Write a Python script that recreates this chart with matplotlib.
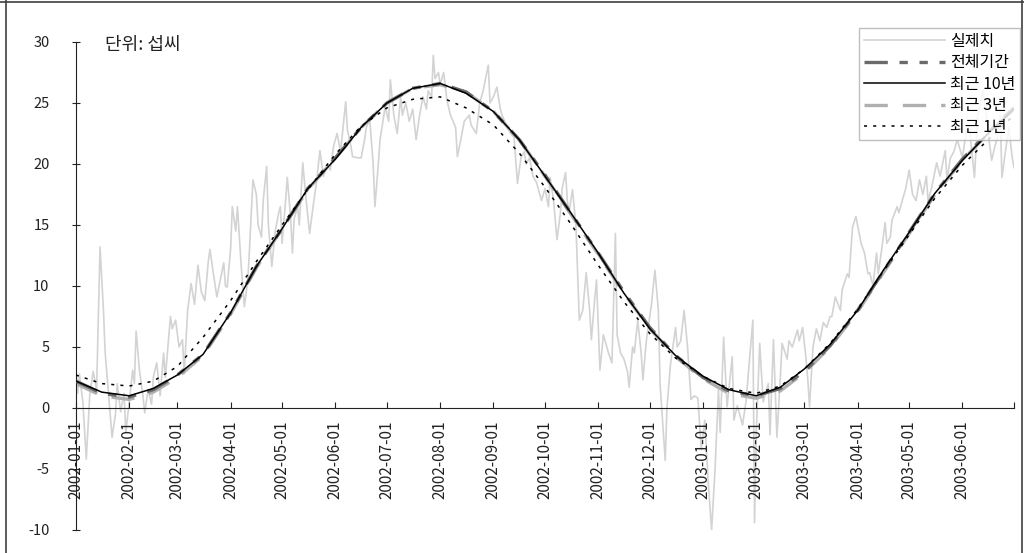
import matplotlib
matplotlib.use("Agg")
import matplotlib.pyplot as plt
import matplotlib.ticker as mticker
from matplotlib.lines import Line2D
import numpy as np

plt.rcParams["font.family"] = ["Noto Sans CJK KR", "DejaVu Sans"]
plt.rcParams["axes.unicode_minus"] = False

# 실제치: day offset from 2002-01-01 and daily temperature (turning points)
actual_days = [
    0, 1, 2, 4, 6, 8, 10, 12, 14, 16, 17, 19, 21, 23, 24, 26, 28, 29, 31, 33,
    34, 35, 37, 39, 40, 42, 44, 45, 47, 49, 51, 52, 55, 56, 58, 60, 62, 63, 65, 67,
    69, 71, 73, 75, 77, 78, 80, 82, 84, 86, 87, 88, 90, 91, 93, 94, 96, 98, 100, 101,
    103, 105, 106, 108, 109, 111, 112, 114, 116, 118, 119, 120, 122, 123, 125, 126, 127, 129, 130, 132,
    134, 136, 138, 140, 142, 144, 146, 148, 150, 152, 154, 157, 158, 160, 161, 164, 166, 168, 169, 171,
    173, 174, 176, 177, 180, 182, 183, 185, 187, 189, 190, 192, 194, 196, 198, 200, 202, 204, 205, 207,
    208, 209, 211, 212, 214, 216, 218, 221, 222, 224, 226, 229, 230, 233, 235, 237, 240, 241, 243, 245,
    247, 248, 251, 253, 255, 257, 259, 261, 262, 264, 266, 268, 271, 273, 275, 276, 278, 280, 282, 283,
    285, 286, 287, 289, 291, 293, 295, 297, 299, 300, 302, 303, 305, 307, 308, 310, 312, 314, 315, 317,
    319, 321, 322, 324, 325, 327, 329, 330, 332, 335, 337, 339, 340, 343, 344, 346, 349, 350, 352, 354,
    356, 358, 360, 362, 364, 366, 368, 370, 372, 374, 375, 377, 379, 382, 383, 385, 388, 390, 392, 394,
    395, 396, 398, 400, 403, 404, 406, 408, 410, 411, 414, 415, 417, 420, 421, 423, 425, 426, 427, 429,
    431, 433, 435, 437, 439, 440, 442, 445, 446, 449, 450, 452, 454, 457, 459, 461, 462, 464, 466, 467,
    469, 471, 472, 474, 475, 478, 479, 481, 483, 485, 487, 489, 491, 493, 495, 496, 498, 501, 503, 506,
    507, 509, 511, 513, 516, 518, 520, 523, 525, 528, 530, 531, 533, 535, 536, 538, 539, 541, 543, 545,
    546,
]
actual_vals = [
    3.0, 1.2, 2.8, 0.5, -4.2, 1.0, 3.0, 1.5, 13.2, 8.0, 4.5, 1.0, -2.4, -0.5, 2.0, -0.3, 1.2, -2.0, 0.5, 3.1,
    2.0, 6.3, 3.0, 1.0, -0.4, 1.5, 0.3, 2.5, 3.7, 1.0, 4.5, 2.5, 7.5, 6.5, 7.2, 5.0, 5.6, 2.8, 8.0, 10.2,
    8.5, 11.7, 9.5, 8.8, 12.0, 13.0, 11.0, 9.1, 10.5, 11.9, 10.0, 9.9, 13.0, 16.5, 14.5, 16.5, 12.0, 8.3, 10.5, 13.0,
    18.7, 17.5, 15.0, 14.0, 17.0, 19.8, 15.0, 11.6, 14.5, 16.0, 16.5, 13.5, 17.0, 18.9, 15.5, 12.7, 15.5, 16.5, 15.0, 20.1,
    17.0, 14.3, 16.5, 18.5, 21.1, 19.0, 20.0, 19.5, 21.5, 22.5, 21.0, 25.1, 22.8, 21.5, 20.6, 20.5, 20.5, 22.0, 23.0, 23.6,
    20.0, 16.5, 20.0, 22.0, 24.7, 23.5, 26.9, 24.0, 22.5, 25.5, 24.0, 25.0, 23.5, 24.5, 22.0, 24.0, 25.5, 24.5, 26.0, 25.5,
    28.9, 27.0, 27.5, 26.5, 27.5, 25.2, 24.0, 23.0, 20.6, 22.0, 23.5, 24.0, 23.2, 22.5, 25.0, 26.0, 28.1, 25.0, 25.5, 26.3,
    24.5, 24.0, 23.0, 22.5, 22.2, 18.4, 20.5, 21.0, 20.0, 20.5, 19.0, 18.5, 17.0, 18.0, 16.5, 18.9, 17.0, 13.8, 16.0, 18.0,
    19.3, 17.0, 16.0, 17.9, 15.0, 7.2, 8.0, 11.1, 8.0, 5.6, 9.0, 10.5, 3.1, 6.0, 5.5, 4.5, 3.7, 14.3, 6.0, 4.5,
    4.0, 3.0, 1.7, 5.0, 4.5, 7.2, 4.5, 2.3, 5.5, 8.5, 11.3, 8.0, 2.0, -4.3, 0.0, 3.5, 6.6, 5.0, 5.5, 8.0,
    5.0, 0.7, 1.0, 0.8, -3.4, -1.0, -6.0, -10.0, -5.0, 1.5, -2.0, 5.8, 0.1, 4.2, -1.0, 0.2, -1.4, 0.5, 3.9, 7.2,
    -9.4, -2.0, 5.3, 0.5, 2.0, -2.2, 5.6, -2.4, 2.5, 5.3, 4.0, 5.5, 5.0, 6.4, 5.5, 6.6, 4.0, 2.3, 0.1, 5.0,
    6.5, 5.5, 7.0, 6.6, 7.5, 7.5, 9.1, 8.0, 9.7, 11.0, 10.7, 14.8, 15.7, 13.5, 12.7, 11.0, 11.1, 10.0, 12.7, 11.0,
    13.0, 15.2, 13.5, 14.0, 15.4, 16.5, 16.0, 17.0, 18.0, 19.5, 17.5, 17.0, 18.7, 17.5, 19.0, 17.0, 18.0, 20.1, 19.0, 21.1,
    18.7, 20.5, 21.0, 22.0, 20.5, 22.5, 23.0, 18.9, 24.0, 26.0, 24.0, 22.5, 20.3, 21.5, 22.0, 24.0, 18.9, 21.0, 23.0, 20.5,
    19.7,
]

# fitted curves, read every half month
fit_days = [0, 15, 31, 45, 59, 74, 90, 105, 120, 135, 151, 166, 181, 196, 212, 227, 243, 258, 273,
            288, 304, 319, 334, 349, 365, 380, 396, 410, 424, 439, 455, 470, 485, 500, 516, 531, 546]
fit_all = [2.2, 1.2, 0.9, 1.5, 2.7, 4.4, 7.8, 11.6, 14.7, 18.0, 20.5, 23.0, 25.0, 26.2, 26.6, 25.9, 24.3, 22.0, 19.1,
           16.0, 12.7, 9.5, 6.6, 4.3, 2.5, 1.4, 1.0, 1.6, 3.0, 5.1, 8.0, 11.2, 14.4, 17.6, 20.4, 22.6, 24.6]
fit_10y = [2.2, 1.3, 1.0, 1.6, 2.7, 4.4, 7.8, 11.6, 14.7, 18.0, 20.4, 23.0, 25.0, 26.2, 26.6, 25.8, 24.3, 22.0, 19.0,
           16.0, 12.7, 9.4, 6.5, 4.3, 2.6, 1.5, 1.0, 1.7, 3.2, 5.2, 8.0, 11.3, 14.4, 17.6, 20.3, 22.5, 24.5]
fit_3y = [2.0, 1.0, 0.7, 1.3, 2.5, 4.3, 7.7, 11.5, 14.7, 17.9, 20.5, 23.0, 25.0, 26.2, 26.5, 25.9, 24.3, 22.0, 19.0,
          15.9, 12.6, 9.4, 6.5, 4.2, 2.4, 1.2, 0.8, 1.4, 2.9, 5.0, 7.9, 11.1, 14.3, 17.5, 20.3, 22.5, 24.5]
fit_1y = [2.7, 2.0, 1.8, 2.2, 3.4, 5.8, 8.8, 12.0, 15.0, 17.9, 20.8, 23.1, 24.6, 25.3, 25.5, 24.6, 23.2, 20.9, 18.1,
          15.1, 11.7, 8.7, 6.1, 4.1, 2.6, 1.6, 1.2, 1.8, 3.2, 5.3, 8.1, 11.2, 14.2, 17.2, 19.9, 22.0, 24.0]

tick_labels = ["2002-01-01", "2002-02-01", "2002-03-01", "2002-04-01", "2002-05-01", "2002-06-01",
               "2002-07-01", "2002-08-01", "2002-09-01", "2002-10-01", "2002-11-01", "2002-12-01",
               "2003-01-01", "2003-02-01", "2003-03-01", "2003-04-01", "2003-05-01", "2003-06-01", ""]
tick_dates = tick_labels[:-1] + ["2003-07-01"]

start = np.datetime64("2002-01-01")
act_x = start + np.array(actual_days, dtype="timedelta64[D]")
fit_x = start + np.array(fit_days, dtype="timedelta64[D]")

fig = plt.figure(figsize=(10.24, 5.53), dpi=100)
ax = fig.add_axes([0.0742, 0.0416, 0.916, 0.8825])

ax.plot(act_x, actual_vals, color="#d3d3d3", lw=1.2, zorder=1)
ax.plot(fit_x, fit_3y, color="#b0b0b0", lw=2.4, dashes=(7, 4.5), zorder=2)
ax.plot(fit_x, fit_all, color="#6a6a6a", lw=2.4, dashes=(7, 3.5, 2.5, 3.5, 2.5, 3.5), zorder=3)
ax.plot(fit_x, fit_10y, color="black", lw=1.1, zorder=4)
ax.plot(fit_x, fit_1y, color="black", lw=1.1, dashes=(2, 4), zorder=5)

ax.set_ylim(-10, 30)
ax.set_xlim(np.datetime64("2002-01-01"), np.datetime64("2003-07-01"))
ax.yaxis.set_major_locator(mticker.MultipleLocator(5))

tick_pos = [matplotlib.dates.date2num(np.datetime64(d)) for d in tick_dates]
ax.xaxis.set_major_locator(mticker.FixedLocator(tick_pos))
ax.xaxis.set_major_formatter(mticker.FixedFormatter(tick_labels))

for s in ["top", "right"]:
    ax.spines[s].set_visible(False)
ax.spines["bottom"].set_position(("data", 0))
ax.spines["left"].set_color("#222222")
ax.spines["bottom"].set_color("#222222")
ax.tick_params(axis="x", direction="in", length=4, pad=9, colors="#222222",
               labelrotation=90, labelsize=11)
ax.tick_params(axis="y", direction="inout", length=6, pad=16, labelsize=10.5, colors="#222222")

ax.text(0.031, 0.994, "단위: 섭씨", transform=ax.transAxes, fontsize=13, va="center", ha="left",
        color="#222222")

handles = [
    Line2D([], [], color="#d3d3d3", lw=1.2),
    Line2D([], [], color="#6a6a6a", lw=2.4, dashes=(7, 3.5, 2.5, 3.5, 2.5, 3.5)),
    Line2D([], [], color="black", lw=1.1),
    Line2D([], [], color="#b0b0b0", lw=2.4, dashes=(7, 4.5)),
    Line2D([], [], color="black", lw=1.1, dashes=(2, 4)),
]
labels = ["실제치", "전체기간", "최근 10년", "최근 3년", "최근 1년"]
leg = fig.legend(handles, labels, loc="upper right", bbox_to_anchor=(1020 / 1024, 1 - 28 / 553),
                 fontsize=11.5, frameon=True, fancybox=False, borderaxespad=0, handlelength=5.1,
                 handletextpad=0.3, labelspacing=0.28, borderpad=0.3)
leg.get_frame().set_edgecolor("#b0b0b0")
leg.get_frame().set_linewidth(1.0)

# outer frame
for xs, ys in [([6 / 1024, 6 / 1024], [0, 1]), ([0, 1], [0.997, 0.997]), ([1022 / 1024, 1022 / 1024], [0, 1])]:
    fig.add_artist(Line2D(xs, ys, color="#404040", lw=1.2, transform=fig.transFigure))

fig.savefig("out.png", dpi=100)
